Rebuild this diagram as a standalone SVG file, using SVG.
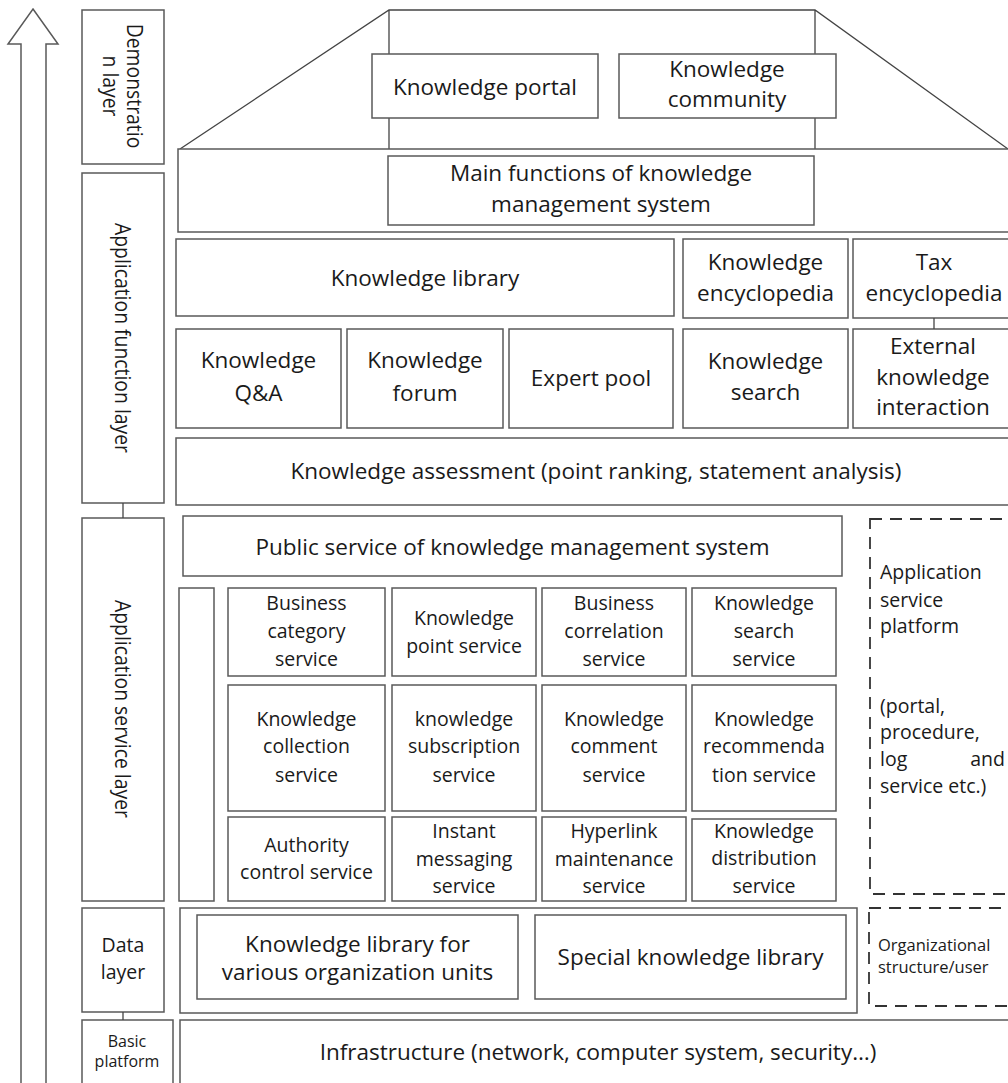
<svg xmlns="http://www.w3.org/2000/svg" width="1008" height="1083" viewBox="0 0 1008 1083">
<style>
.b{fill:#fff;stroke:#595959;stroke-width:1.5}
.d{fill:none;stroke:#333;stroke-width:1.8;stroke-dasharray:12 8}
.l{fill:none;stroke:#444;stroke-width:1.3}
text{font-family:"Open Sans","Noto Sans","Liberation Sans",sans-serif;fill:#1a1a1a}
.t22{font-size:22.5px;text-anchor:middle}
.t19{font-size:19.5px;text-anchor:middle}
.s19{font-size:19.5px}
.v{font-size:22px;text-anchor:middle}
</style>
<rect width="1008" height="1083" fill="#fff"/>
<g id="arrow"><polygon class="b" points="33,9 58,44 46,44 46,1090 21,1090 21,44 8,44"/></g>

<g id="layer-demo"><rect class="b" x="82" y="10" width="82" height="154"/>
<text class="v" transform="translate(123,86) rotate(90) scale(0.88,1)"><tspan x="0" y="-4">Demonstratio</tspan><tspan x="0" y="20">n layer</tspan></text></g>
<g id="layer-func"><rect class="b" x="82" y="173" width="82" height="330"/>
<text class="v" transform="translate(123,338) rotate(90) scale(0.88,1)" x="0" y="8">Application function layer</text></g>
<g id="layer-service"><rect class="b" x="82" y="518" width="82" height="383"/>
<text class="v" transform="translate(123,709) rotate(90) scale(0.88,1)" x="0" y="8">Application service layer</text></g>
<g id="layer-data"><rect class="b" x="82" y="908" width="82" height="104"/>
<text class="t19" x="123" y="952">Data</text><text class="t19" x="123" y="979">layer</text></g>
<g id="layer-basic"><rect class="b" x="82" y="1020" width="91" height="70"/>
<text font-size="16" text-anchor="middle" x="127" y="1047">Basic</text><text font-size="16" text-anchor="middle" x="127" y="1067">platform</text></g>

<g id="roof"><path class="l" d="M180,149 L389,10 L815,10 L1008,149 M389,10 V149 M815,10 V149"/>
<rect class="b" x="178" y="149" width="836" height="83"/></g>
<g id="knowledge-portal"><rect class="b" x="372" y="54" width="226" height="64"/><text class="t22" x="485" y="95">Knowledge portal</text></g>
<g id="knowledge-community"><rect class="b" x="619" y="54" width="217" height="64"/><text class="t22" x="727" y="77">Knowledge</text><text class="t22" x="727" y="107">community</text></g>
<g id="main-functions"><rect class="b" x="388" y="156" width="426" height="69"/><text class="t22" x="601" y="181">Main functions of knowledge</text><text class="t22" x="601" y="212">management system</text></g>

<g id="knowledge-library"><rect class="b" x="176" y="239" width="498" height="77"/><text class="t22" x="425" y="286">Knowledge library</text></g>
<g id="knowledge-encyclopedia"><rect class="b" x="683" y="239" width="165" height="79"/><text class="t22" x="765.5" y="270">Knowledge</text><text class="t22" x="765.5" y="301">encyclopedia</text></g>
<g id="tax-encyclopedia"><rect class="b" x="853" y="239" width="161" height="79"/><text class="t22" x="934" y="270">Tax</text><text class="t22" x="934" y="301">encyclopedia</text></g>

<g id="knowledge-qa"><rect class="b" x="176" y="329" width="165" height="99"/><text class="t22" x="258.5" y="368">Knowledge</text><text class="t22" x="258.5" y="401">Q&amp;A</text></g>
<g id="knowledge-forum"><rect class="b" x="347" y="329" width="156" height="99"/><text class="t22" x="425" y="368">Knowledge</text><text class="t22" x="425" y="401">forum</text></g>
<g id="expert-pool"><rect class="b" x="509" y="329" width="164" height="99"/><text class="t22" x="591" y="386">Expert pool</text></g>
<g id="knowledge-search"><rect class="b" x="683" y="329" width="165" height="99"/><text class="t22" x="765.5" y="369">Knowledge</text><text class="t22" x="765.5" y="400">search</text></g>
<g id="external-interaction"><rect class="b" x="853" y="329" width="161" height="99"/><text class="t22" x="933" y="354">External</text><text class="t22" x="933" y="385">knowledge</text><text class="t22" x="933" y="415">interaction</text></g>
<g id="knowledge-assessment"><rect class="b" x="176" y="438" width="838" height="67"/><text class="t22" x="596" y="479">Knowledge assessment (point ranking, statement analysis)</text></g>

<g id="public-service"><rect class="b" x="183" y="516" width="659" height="60"/><text class="t22" x="512.5" y="555">Public service of knowledge management system</text></g>
<g id="side-bar"><rect class="b" x="179" y="588" width="35" height="313"/></g>

<g id="business-category"><rect class="b" x="228" y="588" width="157" height="88"/><text class="t19" x="306.5" y="610">Business</text><text class="t19" x="306.5" y="638">category</text><text class="t19" x="306.5" y="666">service</text></g>
<g id="knowledge-point"><rect class="b" x="392" y="588" width="144" height="88"/><text class="t19" x="464" y="625">Knowledge</text><text class="t19" x="464" y="653">point service</text></g>
<g id="business-correlation"><rect class="b" x="542" y="588" width="144" height="88"/><text class="t19" x="614" y="610">Business</text><text class="t19" x="614" y="638">correlation</text><text class="t19" x="614" y="666">service</text></g>
<g id="knowledge-search-service"><rect class="b" x="692" y="588" width="144" height="88"/><text class="t19" x="764" y="610">Knowledge</text><text class="t19" x="764" y="638">search</text><text class="t19" x="764" y="666">service</text></g>

<g id="knowledge-collection"><rect class="b" x="228" y="685" width="157" height="126"/><text class="t19" x="306.5" y="726">Knowledge</text><text class="t19" x="306.5" y="753">collection</text><text class="t19" x="306.5" y="782">service</text></g>
<g id="knowledge-subscription"><rect class="b" x="392" y="685" width="144" height="126"/><text class="t19" x="464" y="726">knowledge</text><text class="t19" x="464" y="753">subscription</text><text class="t19" x="464" y="782">service</text></g>
<g id="knowledge-comment"><rect class="b" x="542" y="685" width="144" height="126"/><text class="t19" x="614" y="726">Knowledge</text><text class="t19" x="614" y="753">comment</text><text class="t19" x="614" y="782">service</text></g>
<g id="knowledge-recommendation"><rect class="b" x="692" y="685" width="144" height="126"/><text class="t19" x="764" y="726">Knowledge</text><text class="t19" x="764" y="753">recommenda</text><text class="t19" x="764" y="782">tion service</text></g>

<g id="authority-control"><rect class="b" x="228" y="817" width="157" height="84"/><text class="t19" x="306.5" y="852">Authority</text><text class="t19" x="306.5" y="879">control service</text></g>
<g id="instant-messaging"><rect class="b" x="392" y="817" width="144" height="84"/><text class="t19" x="464" y="838">Instant</text><text class="t19" x="464" y="866">messaging</text><text class="t19" x="464" y="893">service</text></g>
<g id="hyperlink-maintenance"><rect class="b" x="542" y="817" width="144" height="84"/><text class="t19" x="614" y="838">Hyperlink</text><text class="t19" x="614" y="866">maintenance</text><text class="t19" x="614" y="893">service</text></g>
<g id="knowledge-distribution"><rect class="b" x="692" y="819" width="144" height="82"/><text class="t19" x="764" y="838">Knowledge</text><text class="t19" x="764" y="865">distribution</text><text class="t19" x="764" y="893">service</text></g>

<g id="application-service-platform"><rect class="d" x="870" y="519" width="150" height="375"/>
<text class="s19" x="880" y="579">Application</text><text class="s19" x="880" y="607">service</text><text class="s19" x="880" y="633">platform</text>
<text class="s19" x="880" y="713">(portal,</text><text class="s19" x="880" y="739">procedure,</text><text class="s19" x="880" y="766">log</text><text class="s19" x="1005" y="766" text-anchor="end">and</text><text class="s19" x="880" y="793">service etc.)</text></g>

<g id="data-area"><rect class="b" x="180" y="908" width="677" height="105"/></g>
<g id="org-unit-library"><rect class="b" x="197" y="915" width="321" height="84"/><text class="t22" x="357.5" y="952">Knowledge library for</text><text class="t22" x="357.5" y="980">various organization units</text></g>
<g id="special-library"><rect class="b" x="535" y="915" width="311" height="84"/><text class="t22" x="690.5" y="965">Special knowledge library</text></g>
<g id="org-structure"><rect class="d" x="869" y="908" width="150" height="98"/><text font-size="16.5" x="878" y="951">Organizational</text><text font-size="16.5" x="878" y="973">structure/user</text></g>

<g id="infrastructure"><rect class="b" x="180" y="1020" width="834" height="70"/><text class="t22" x="598" y="1060">Infrastructure (network, computer system, security…)</text></g>

<g id="connectors">
<line class="l" x1="123" y1="503" x2="123" y2="518"/>
<line class="l" x1="123" y1="1012" x2="123" y2="1020"/>
<line class="l" x1="934" y1="318" x2="934" y2="329"/>
</g>
</svg>
